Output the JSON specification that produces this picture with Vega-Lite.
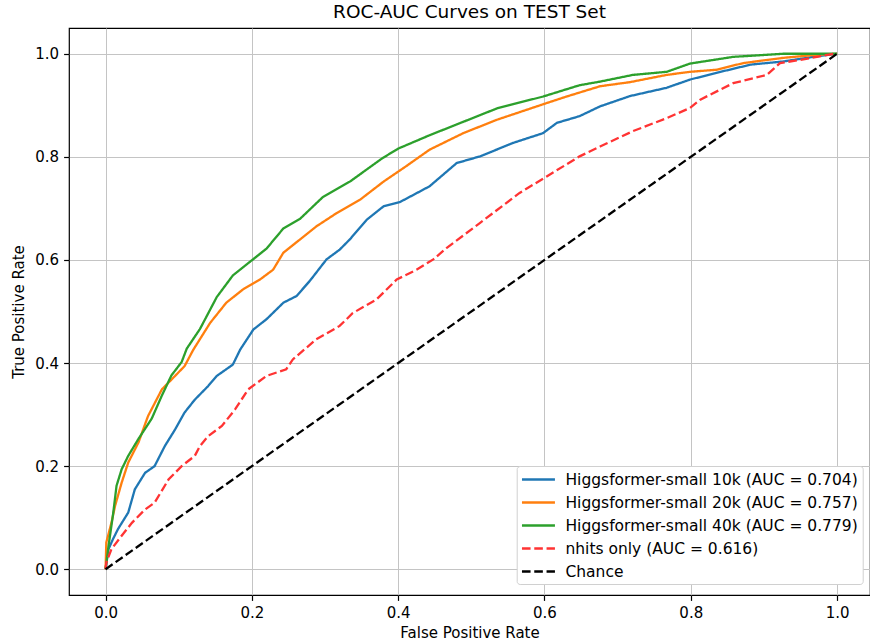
{
  "$schema": "https://vega.github.io/schema/vega-lite/v6.json",
  "width": 801,
  "height": 567,
  "autosize": {"type": "none"},
  "padding": {"left": 69, "top": 28, "right": 0, "bottom": 47},
  "background": "white",
  "title": {"text": "ROC-AUC Curves on TEST Set", "fontSize": 18.5, "font": "DejaVu Sans", "fontWeight": "normal", "color": "#000", "offset": 7, "anchor": "middle"},
  "config": {
    "font": "DejaVu Sans",
    "view": {"stroke": "#000", "strokeWidth": 1.2},
    "axis": {
      "labelFontSize": 15, "titleFontSize": 15, "titleFontWeight": "normal",
      "labelColor": "#000", "titleColor": "#000", "labelFont": "DejaVu Sans", "titleFont": "DejaVu Sans",
      "gridColor": "#c4c4c4", "gridWidth": 1, "gridOpacity": 1,
      "tickColor": "#000", "tickSize": 5.4, "tickWidth": 1.2,
      "labelPadding": 5, "domain": false
    },
    "legend": {
      "orient": "none", "legendX": 447.7, "legendY": 438,
      "symbolType": "M-2,0L2,0", "symbolSize": 272, "symbolStrokeWidth": 2.3, "symbolOffset": 8.25,
      "labelFontSize": 15.5, "labelFont": "DejaVu Sans", "labelColor": "#000", "labelLimit": 500,
      "labelOffset": 17.5, "padding": 4, "rowPadding": 5,
      "fillColor": "white", "strokeColor": "#d0d0d0", "cornerRadius": 3
    }
  },
  "data": {"values": [
    {"s": "Higgsformer-small 10k (AUC = 0.704)", "x": 0, "y": 0},
    {"s": "Higgsformer-small 10k (AUC = 0.704)", "x": 0.004, "y": 0.039},
    {"s": "Higgsformer-small 10k (AUC = 0.704)", "x": 0.010, "y": 0.058},
    {"s": "Higgsformer-small 10k (AUC = 0.704)", "x": 0.017, "y": 0.078},
    {"s": "Higgsformer-small 10k (AUC = 0.704)", "x": 0.031, "y": 0.110},
    {"s": "Higgsformer-small 10k (AUC = 0.704)", "x": 0.040, "y": 0.155},
    {"s": "Higgsformer-small 10k (AUC = 0.704)", "x": 0.054, "y": 0.187},
    {"s": "Higgsformer-small 10k (AUC = 0.704)", "x": 0.067, "y": 0.200},
    {"s": "Higgsformer-small 10k (AUC = 0.704)", "x": 0.081, "y": 0.239},
    {"s": "Higgsformer-small 10k (AUC = 0.704)", "x": 0.095, "y": 0.271},
    {"s": "Higgsformer-small 10k (AUC = 0.704)", "x": 0.108, "y": 0.304},
    {"s": "Higgsformer-small 10k (AUC = 0.704)", "x": 0.122, "y": 0.329},
    {"s": "Higgsformer-small 10k (AUC = 0.704)", "x": 0.140, "y": 0.355},
    {"s": "Higgsformer-small 10k (AUC = 0.704)", "x": 0.152, "y": 0.375},
    {"s": "Higgsformer-small 10k (AUC = 0.704)", "x": 0.174, "y": 0.397},
    {"s": "Higgsformer-small 10k (AUC = 0.704)", "x": 0.184, "y": 0.426},
    {"s": "Higgsformer-small 10k (AUC = 0.704)", "x": 0.202, "y": 0.465},
    {"s": "Higgsformer-small 10k (AUC = 0.704)", "x": 0.220, "y": 0.485},
    {"s": "Higgsformer-small 10k (AUC = 0.704)", "x": 0.243, "y": 0.517},
    {"s": "Higgsformer-small 10k (AUC = 0.704)", "x": 0.261, "y": 0.530},
    {"s": "Higgsformer-small 10k (AUC = 0.704)", "x": 0.279, "y": 0.559},
    {"s": "Higgsformer-small 10k (AUC = 0.704)", "x": 0.302, "y": 0.601},
    {"s": "Higgsformer-small 10k (AUC = 0.704)", "x": 0.320, "y": 0.620},
    {"s": "Higgsformer-small 10k (AUC = 0.704)", "x": 0.334, "y": 0.640},
    {"s": "Higgsformer-small 10k (AUC = 0.704)", "x": 0.357, "y": 0.678},
    {"s": "Higgsformer-small 10k (AUC = 0.704)", "x": 0.380, "y": 0.704},
    {"s": "Higgsformer-small 10k (AUC = 0.704)", "x": 0.402, "y": 0.712},
    {"s": "Higgsformer-small 10k (AUC = 0.704)", "x": 0.443, "y": 0.743},
    {"s": "Higgsformer-small 10k (AUC = 0.704)", "x": 0.480, "y": 0.788},
    {"s": "Higgsformer-small 10k (AUC = 0.704)", "x": 0.512, "y": 0.801},
    {"s": "Higgsformer-small 10k (AUC = 0.704)", "x": 0.557, "y": 0.827},
    {"s": "Higgsformer-small 10k (AUC = 0.704)", "x": 0.598, "y": 0.846},
    {"s": "Higgsformer-small 10k (AUC = 0.704)", "x": 0.617, "y": 0.866},
    {"s": "Higgsformer-small 10k (AUC = 0.704)", "x": 0.648, "y": 0.879},
    {"s": "Higgsformer-small 10k (AUC = 0.704)", "x": 0.676, "y": 0.898},
    {"s": "Higgsformer-small 10k (AUC = 0.704)", "x": 0.717, "y": 0.918},
    {"s": "Higgsformer-small 10k (AUC = 0.704)", "x": 0.767, "y": 0.934},
    {"s": "Higgsformer-small 10k (AUC = 0.704)", "x": 0.799, "y": 0.950},
    {"s": "Higgsformer-small 10k (AUC = 0.704)", "x": 0.835, "y": 0.963},
    {"s": "Higgsformer-small 10k (AUC = 0.704)", "x": 0.882, "y": 0.979},
    {"s": "Higgsformer-small 10k (AUC = 0.704)", "x": 0.926, "y": 0.985},
    {"s": "Higgsformer-small 10k (AUC = 0.704)", "x": 0.972, "y": 0.995},
    {"s": "Higgsformer-small 10k (AUC = 0.704)", "x": 1, "y": 1},

    {"s": "Higgsformer-small 20k (AUC = 0.757)", "x": 0, "y": 0},
    {"s": "Higgsformer-small 20k (AUC = 0.757)", "x": 0.001, "y": 0.052},
    {"s": "Higgsformer-small 20k (AUC = 0.757)", "x": 0.008, "y": 0.090},
    {"s": "Higgsformer-small 20k (AUC = 0.757)", "x": 0.013, "y": 0.123},
    {"s": "Higgsformer-small 20k (AUC = 0.757)", "x": 0.022, "y": 0.168},
    {"s": "Higgsformer-small 20k (AUC = 0.757)", "x": 0.031, "y": 0.207},
    {"s": "Higgsformer-small 20k (AUC = 0.757)", "x": 0.045, "y": 0.246},
    {"s": "Higgsformer-small 20k (AUC = 0.757)", "x": 0.058, "y": 0.297},
    {"s": "Higgsformer-small 20k (AUC = 0.757)", "x": 0.077, "y": 0.349},
    {"s": "Higgsformer-small 20k (AUC = 0.757)", "x": 0.095, "y": 0.375},
    {"s": "Higgsformer-small 20k (AUC = 0.757)", "x": 0.108, "y": 0.394},
    {"s": "Higgsformer-small 20k (AUC = 0.757)", "x": 0.120, "y": 0.426},
    {"s": "Higgsformer-small 20k (AUC = 0.757)", "x": 0.143, "y": 0.478},
    {"s": "Higgsformer-small 20k (AUC = 0.757)", "x": 0.165, "y": 0.517},
    {"s": "Higgsformer-small 20k (AUC = 0.757)", "x": 0.188, "y": 0.543},
    {"s": "Higgsformer-small 20k (AUC = 0.757)", "x": 0.211, "y": 0.562},
    {"s": "Higgsformer-small 20k (AUC = 0.757)", "x": 0.229, "y": 0.581},
    {"s": "Higgsformer-small 20k (AUC = 0.757)", "x": 0.243, "y": 0.614},
    {"s": "Higgsformer-small 20k (AUC = 0.757)", "x": 0.266, "y": 0.640},
    {"s": "Higgsformer-small 20k (AUC = 0.757)", "x": 0.288, "y": 0.665},
    {"s": "Higgsformer-small 20k (AUC = 0.757)", "x": 0.316, "y": 0.691},
    {"s": "Higgsformer-small 20k (AUC = 0.757)", "x": 0.348, "y": 0.717},
    {"s": "Higgsformer-small 20k (AUC = 0.757)", "x": 0.380, "y": 0.752},
    {"s": "Higgsformer-small 20k (AUC = 0.757)", "x": 0.411, "y": 0.782},
    {"s": "Higgsformer-small 20k (AUC = 0.757)", "x": 0.443, "y": 0.814},
    {"s": "Higgsformer-small 20k (AUC = 0.757)", "x": 0.489, "y": 0.846},
    {"s": "Higgsformer-small 20k (AUC = 0.757)", "x": 0.535, "y": 0.872},
    {"s": "Higgsformer-small 20k (AUC = 0.757)", "x": 0.598, "y": 0.902},
    {"s": "Higgsformer-small 20k (AUC = 0.757)", "x": 0.630, "y": 0.917},
    {"s": "Higgsformer-small 20k (AUC = 0.757)", "x": 0.676, "y": 0.937},
    {"s": "Higgsformer-small 20k (AUC = 0.757)", "x": 0.717, "y": 0.945},
    {"s": "Higgsformer-small 20k (AUC = 0.757)", "x": 0.767, "y": 0.959},
    {"s": "Higgsformer-small 20k (AUC = 0.757)", "x": 0.799, "y": 0.965},
    {"s": "Higgsformer-small 20k (AUC = 0.757)", "x": 0.835, "y": 0.969},
    {"s": "Higgsformer-small 20k (AUC = 0.757)", "x": 0.872, "y": 0.982},
    {"s": "Higgsformer-small 20k (AUC = 0.757)", "x": 0.926, "y": 0.992},
    {"s": "Higgsformer-small 20k (AUC = 0.757)", "x": 0.972, "y": 0.998},
    {"s": "Higgsformer-small 20k (AUC = 0.757)", "x": 1, "y": 1},

    {"s": "Higgsformer-small 40k (AUC = 0.779)", "x": 0, "y": 0},
    {"s": "Higgsformer-small 40k (AUC = 0.779)", "x": 0.004, "y": 0.045},
    {"s": "Higgsformer-small 40k (AUC = 0.779)", "x": 0.010, "y": 0.104},
    {"s": "Higgsformer-small 40k (AUC = 0.779)", "x": 0.015, "y": 0.162},
    {"s": "Higgsformer-small 40k (AUC = 0.779)", "x": 0.022, "y": 0.194},
    {"s": "Higgsformer-small 40k (AUC = 0.779)", "x": 0.031, "y": 0.220},
    {"s": "Higgsformer-small 40k (AUC = 0.779)", "x": 0.045, "y": 0.253},
    {"s": "Higgsformer-small 40k (AUC = 0.779)", "x": 0.063, "y": 0.292},
    {"s": "Higgsformer-small 40k (AUC = 0.779)", "x": 0.077, "y": 0.337},
    {"s": "Higgsformer-small 40k (AUC = 0.779)", "x": 0.090, "y": 0.376},
    {"s": "Higgsformer-small 40k (AUC = 0.779)", "x": 0.104, "y": 0.402},
    {"s": "Higgsformer-small 40k (AUC = 0.779)", "x": 0.111, "y": 0.428},
    {"s": "Higgsformer-small 40k (AUC = 0.779)", "x": 0.129, "y": 0.466},
    {"s": "Higgsformer-small 40k (AUC = 0.779)", "x": 0.152, "y": 0.528},
    {"s": "Higgsformer-small 40k (AUC = 0.779)", "x": 0.174, "y": 0.570},
    {"s": "Higgsformer-small 40k (AUC = 0.779)", "x": 0.197, "y": 0.596},
    {"s": "Higgsformer-small 40k (AUC = 0.779)", "x": 0.220, "y": 0.622},
    {"s": "Higgsformer-small 40k (AUC = 0.779)", "x": 0.243, "y": 0.661},
    {"s": "Higgsformer-small 40k (AUC = 0.779)", "x": 0.266, "y": 0.680},
    {"s": "Higgsformer-small 40k (AUC = 0.779)", "x": 0.297, "y": 0.722},
    {"s": "Higgsformer-small 40k (AUC = 0.779)", "x": 0.334, "y": 0.752},
    {"s": "Higgsformer-small 40k (AUC = 0.779)", "x": 0.378, "y": 0.797},
    {"s": "Higgsformer-small 40k (AUC = 0.779)", "x": 0.400, "y": 0.816},
    {"s": "Higgsformer-small 40k (AUC = 0.779)", "x": 0.443, "y": 0.842},
    {"s": "Higgsformer-small 40k (AUC = 0.779)", "x": 0.489, "y": 0.868},
    {"s": "Higgsformer-small 40k (AUC = 0.779)", "x": 0.535, "y": 0.894},
    {"s": "Higgsformer-small 40k (AUC = 0.779)", "x": 0.598, "y": 0.917},
    {"s": "Higgsformer-small 40k (AUC = 0.779)", "x": 0.648, "y": 0.939},
    {"s": "Higgsformer-small 40k (AUC = 0.779)", "x": 0.676, "y": 0.946},
    {"s": "Higgsformer-small 40k (AUC = 0.779)", "x": 0.721, "y": 0.959},
    {"s": "Higgsformer-small 40k (AUC = 0.779)", "x": 0.767, "y": 0.965},
    {"s": "Higgsformer-small 40k (AUC = 0.779)", "x": 0.799, "y": 0.981},
    {"s": "Higgsformer-small 40k (AUC = 0.779)", "x": 0.858, "y": 0.994},
    {"s": "Higgsformer-small 40k (AUC = 0.779)", "x": 0.926, "y": 1.0},
    {"s": "Higgsformer-small 40k (AUC = 0.779)", "x": 1, "y": 1},

    {"s": "nhits only (AUC = 0.616)", "x": 0, "y": 0},
    {"s": "nhits only (AUC = 0.616)", "x": 0.001, "y": 0.013},
    {"s": "nhits only (AUC = 0.616)", "x": 0.008, "y": 0.039},
    {"s": "nhits only (AUC = 0.616)", "x": 0.022, "y": 0.065},
    {"s": "nhits only (AUC = 0.616)", "x": 0.036, "y": 0.090},
    {"s": "nhits only (AUC = 0.616)", "x": 0.054, "y": 0.116},
    {"s": "nhits only (AUC = 0.616)", "x": 0.067, "y": 0.129},
    {"s": "nhits only (AUC = 0.616)", "x": 0.086, "y": 0.174},
    {"s": "nhits only (AUC = 0.616)", "x": 0.104, "y": 0.200},
    {"s": "nhits only (AUC = 0.616)", "x": 0.122, "y": 0.220},
    {"s": "nhits only (AUC = 0.616)", "x": 0.129, "y": 0.239},
    {"s": "nhits only (AUC = 0.616)", "x": 0.140, "y": 0.258},
    {"s": "nhits only (AUC = 0.616)", "x": 0.159, "y": 0.278},
    {"s": "nhits only (AUC = 0.616)", "x": 0.177, "y": 0.310},
    {"s": "nhits only (AUC = 0.616)", "x": 0.195, "y": 0.349},
    {"s": "nhits only (AUC = 0.616)", "x": 0.220, "y": 0.375},
    {"s": "nhits only (AUC = 0.616)", "x": 0.247, "y": 0.388},
    {"s": "nhits only (AUC = 0.616)", "x": 0.256, "y": 0.407},
    {"s": "nhits only (AUC = 0.616)", "x": 0.288, "y": 0.446},
    {"s": "nhits only (AUC = 0.616)", "x": 0.320, "y": 0.472},
    {"s": "nhits only (AUC = 0.616)", "x": 0.338, "y": 0.497},
    {"s": "nhits only (AUC = 0.616)", "x": 0.370, "y": 0.523},
    {"s": "nhits only (AUC = 0.616)", "x": 0.398, "y": 0.562},
    {"s": "nhits only (AUC = 0.616)", "x": 0.425, "y": 0.581},
    {"s": "nhits only (AUC = 0.616)", "x": 0.448, "y": 0.601},
    {"s": "nhits only (AUC = 0.616)", "x": 0.466, "y": 0.623},
    {"s": "nhits only (AUC = 0.616)", "x": 0.512, "y": 0.672},
    {"s": "nhits only (AUC = 0.616)", "x": 0.566, "y": 0.730},
    {"s": "nhits only (AUC = 0.616)", "x": 0.603, "y": 0.762},
    {"s": "nhits only (AUC = 0.616)", "x": 0.648, "y": 0.801},
    {"s": "nhits only (AUC = 0.616)", "x": 0.676, "y": 0.820},
    {"s": "nhits only (AUC = 0.616)", "x": 0.721, "y": 0.850},
    {"s": "nhits only (AUC = 0.616)", "x": 0.767, "y": 0.875},
    {"s": "nhits only (AUC = 0.616)", "x": 0.799, "y": 0.895},
    {"s": "nhits only (AUC = 0.616)", "x": 0.813, "y": 0.911},
    {"s": "nhits only (AUC = 0.616)", "x": 0.858, "y": 0.943},
    {"s": "nhits only (AUC = 0.616)", "x": 0.904, "y": 0.959},
    {"s": "nhits only (AUC = 0.616)", "x": 0.922, "y": 0.982},
    {"s": "nhits only (AUC = 0.616)", "x": 0.949, "y": 0.988},
    {"s": "nhits only (AUC = 0.616)", "x": 0.995, "y": 1.0},
    {"s": "nhits only (AUC = 0.616)", "x": 1, "y": 1},

    {"s": "Chance", "x": 0, "y": 0},
    {"s": "Chance", "x": 1, "y": 1}
  ]},
  "mark": {"type": "line", "strokeWidth": 2.3, "clip": true},
  "encoding": {
    "x": {
      "field": "x", "type": "quantitative",
      "scale": {"domain": [-0.05, 1.045], "nice": false, "zero": false},
      "axis": {"title": "False Positive Rate", "values": [0, 0.2, 0.4, 0.6, 0.8, 1.0], "format": ".1f", "titlePadding": 5}
    },
    "y": {
      "field": "y", "type": "quantitative",
      "scale": {"domain": [-0.05, 1.05], "nice": false, "zero": false},
      "axis": {"title": "True Positive Rate", "values": [0, 0.2, 0.4, 0.6, 0.8, 1.0], "format": ".1f", "titlePadding": 8}
    },
    "color": {
      "field": "s", "type": "nominal",
      "scale": {
        "domain": ["Higgsformer-small 10k (AUC = 0.704)", "Higgsformer-small 20k (AUC = 0.757)", "Higgsformer-small 40k (AUC = 0.779)", "nhits only (AUC = 0.616)", "Chance"],
        "range": ["#1f77b4", "#ff7f0e", "#2ca02c", "#ff3333", "#000000"]
      },
      "legend": {"title": null}
    },
    "strokeDash": {
      "field": "s", "type": "nominal",
      "scale": {
        "domain": ["Higgsformer-small 10k (AUC = 0.704)", "Higgsformer-small 20k (AUC = 0.757)", "Higgsformer-small 40k (AUC = 0.779)", "nhits only (AUC = 0.616)", "Chance"],
        "range": [[1, 0], [1, 0], [1, 0], [8.6, 3.7], [8.6, 3.7]]
      },
      "legend": {"title": null}
    }
  }
}
